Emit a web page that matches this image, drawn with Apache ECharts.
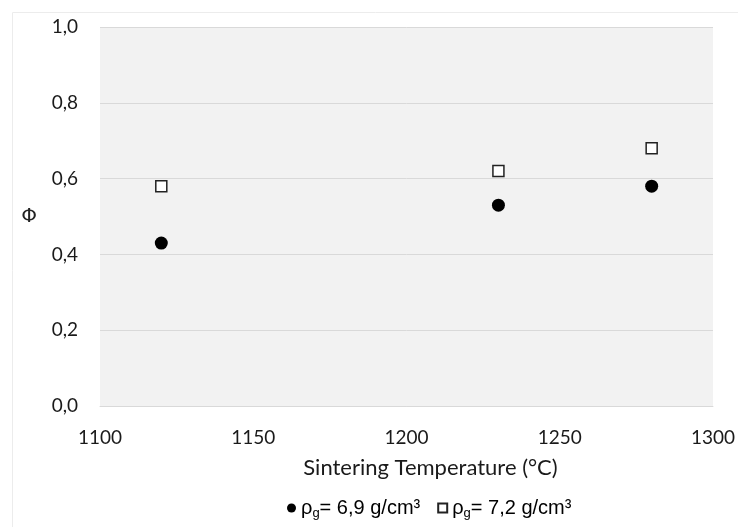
<!DOCTYPE html>
<html>
<head>
<meta charset="utf-8">
<script src="https://cdn.jsdelivr.net/npm/echarts@6/dist/echarts.min.js"></script>
<style>html,body{margin:0;padding:0;background:#fff}#c{width:738px;height:527px}</style>
</head>
<body>
<div id="c"></div>
<script>
var temperatures = [1120, 1230, 1280];
var phi69 = [0.43, 0.53, 0.58];
var phi72 = [0.58, 0.62, 0.68];
var xTicks = [1100, 1150, 1200, 1250, 1300];
var yTicks = ['0,0', '0,2', '0,4', '0,6', '0,8', '1,0'];

function pairs(xs, ys) { return xs.map(function (x, i) { return [x, ys[i]]; }); }

var axisFont = 'Lato';
var chart = echarts.init(document.getElementById('c'));
chart.setOption({
  animation: false,
  graphic: [{
    type: 'rect', left: 10, top: 10, silent: true, z: -10,
    shape: { width: 727, height: 516 },
    style: { fill: 'none', stroke: '#ececec', lineWidth: 1 }
  }],
  grid: {
    left: 100, right: 23, top: 27, bottom: 121,
    show: true, backgroundColor: '#f2f2f2', borderWidth: 0
  },
  xAxis: {
    type: 'value', min: 1100, max: 1300, interval: 50,
    name: 'Sintering Temperature (°C)', nameLocation: 'middle', nameGap: 51,
    nameTextStyle: { fontFamily: axisFont, fontSize: 22, color: '#1a1a1a', padding: [0, 0, 0, 48] },
    axisLine: { show: true, lineStyle: { color: '#d9d9d9' } },
    axisTick: { show: false },
    splitLine: { show: false },
    axisLabel: {
      margin: 22, fontFamily: axisFont, fontSize: 19, color: '#1a1a1a',
      formatter: function (v) { return xTicks.indexOf(v) >= 0 ? String(v) : ''; }
    }
  },
  yAxis: {
    type: 'value', min: 0, max: 1, interval: 0.2,
    name: 'Φ', nameLocation: 'middle', nameRotate: 0, nameGap: 63,
    nameTextStyle: { fontFamily: 'DejaVu Sans', fontSize: 20, color: '#222' },
    axisLine: { show: false },
    axisTick: { show: false },
    splitLine: { show: true, lineStyle: { color: '#d9d9d9', width: 1 } },
    axisLabel: {
      margin: 22, fontFamily: axisFont, fontSize: 19, color: '#1a1a1a',
      formatter: function (v) { return yTicks[Math.round(v / 0.2)]; }
    }
  },
  legend: {
    bottom: 2, left: 282, itemGap: 17, itemWidth: 9, itemHeight: 9,
    data: [
      { name: 'ρg= 6,9 g/cm³', icon: 'circle' },
      { name: 'ρg= 7,2 g/cm³', icon: 'rect' }
    ],
    formatter: function (n) {
      return '{a|ρ}{s|g}{a|' + n.slice(2) + '}';
    },
    textStyle: {
      rich: {
        a: { fontFamily: 'Liberation Sans', fontSize: 20, color: '#000' },
        s: { fontFamily: 'Liberation Sans', fontSize: 13, color: '#000', padding: [11, 0, 0, 0] }
      }
    }
  },
  series: [
    {
      name: 'ρg= 6,9 g/cm³', type: 'scatter', symbol: 'circle', symbolSize: 13,
      itemStyle: { color: '#000', opacity: 1 },
      data: pairs(temperatures, phi69)
    },
    {
      name: 'ρg= 7,2 g/cm³', type: 'scatter', symbol: 'rect', symbolSize: 11,
      itemStyle: { color: '#fff', borderColor: '#222', borderWidth: 1.5, opacity: 1 },
      data: pairs(temperatures, phi72)
    }
  ]
});
</script>
</body>
</html>
